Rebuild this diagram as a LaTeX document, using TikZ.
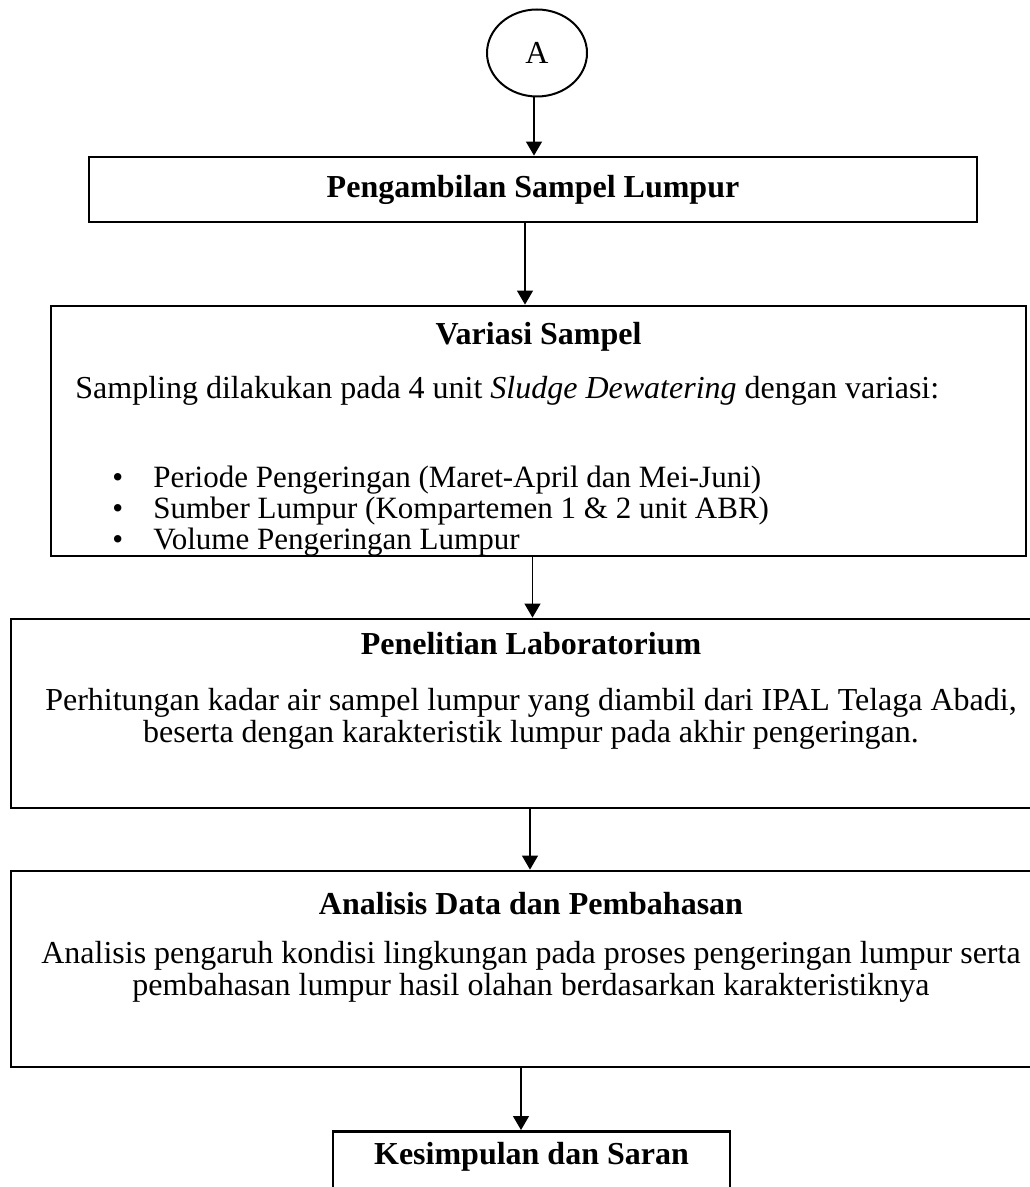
\documentclass[tikz,border=0pt]{standalone}
\usepackage{fontspec}
\setmainfont{Liberation Serif}
\usetikzlibrary{shapes.geometric,arrows.meta,positioning,calc}

\begin{document}
\begin{tikzpicture}[
  x=0.5pt, y=-0.5pt,
  connector/.style={ellipse, draw, line width=1pt, minimum width=50pt,
    minimum height=43.5pt, inner sep=0pt, font=\fontsize{16}{16}\selectfont},
  box/.style={rectangle, draw, line width=1.4pt, inner sep=0pt, fill=white},
  title/.style={font=\fontsize{16}{16}\selectfont\bfseries, inner sep=0pt},
  body/.style={font=\fontsize{16}{16}\selectfont, inner sep=0pt},
  item/.style={font=\fontsize{15.5}{15.5}\selectfont, inner sep=0pt},
  para/.style={font=\fontsize{16}{16}\selectfont, inner sep=0pt, align=center},
  arr/.style={-{Triangle[length=7pt,width=8pt]}, line width=0.6pt}
]
\useasboundingbox (0,0) rectangle (1029,1187);

\node[connector] (a) at (537,53) {A};
\node[box, title, minimum width=444pt, minimum height=32.5pt] (ambil) at (533,189.5) {Pengambilan Sampel Lumpur};

% variasi sampel
\node[box, minimum width=487.5pt, minimum height=125pt] (variasi) at (538.5,431) {};
\node[title, anchor=base] (variasititle) at (538.5,344) {Variasi Sampel};
\node[body, anchor=base west] (sampling) at (75,398) {Sampling dilakukan pada 4 unit \textit{Sludge Dewatering} dengan variasi:};
\node[item, anchor=base west] (periode) at (112,487) {\makebox[20.5pt][l]{\textbullet}Periode Pengeringan (Maret-April dan Mei-Juni)};
\node[item, anchor=base west] (sumber) at (112,518) {\makebox[20.5pt][l]{\textbullet}Sumber Lumpur (Kompartemen 1 \& 2 unit ABR)};
\node[item, anchor=base west] (volume) at (112,549) {\makebox[20.5pt][l]{\textbullet}Volume Pengeringan Lumpur};

% penelitian
\node[box, minimum width=522pt, minimum height=94.5pt] (lab) at (533,713.5) {};
\node[title, anchor=base] (labtitle) at (531,654) {Penelitian Laboratorium};
\node[para, anchor=base] (labtext) at (531,742) {Perhitungan kadar air sampel lumpur yang diambil dari IPAL Telaga Abadi,\\beserta dengan karakteristik lumpur pada akhir pengeringan.};

% analisis
\node[box, minimum width=522pt, minimum height=98pt] (analisis) at (533,969) {};
\node[title, anchor=base] (analisistitle) at (531,914) {Analisis Data dan Pembahasan};
\node[para, anchor=base] (analisistext) at (531,995) {Analisis pengaruh kondisi lingkungan pada proses pengeringan lumpur serta\\pembahasan lumpur hasil olahan berdasarkan karakteristiknya};

\node[box, minimum width=198.5pt, minimum height=40pt, anchor=north] (simpul) at (531.5,1130) {};
\node[title, anchor=base] (simpultitle) at (531.5,1164) {Kesimpulan dan Saran};

\draw[arr] ([xshift=-1.5pt]a.south) -- ([xshift=-1.5pt]a.south |- ambil.north);
\draw[arr] ([xshift=-4pt]ambil.south) -- ([xshift=-4pt]ambil.south |- variasi.north);
\draw[arr] ([xshift=-3pt]variasi.south) -- ([xshift=-3pt]variasi.south |- lab.north);
\draw[arr] ([xshift=-1.5pt]lab.south) -- ([xshift=-1.5pt]lab.south |- analisis.north);
\draw[arr] ([xshift=-6pt]analisis.south) -- ([xshift=-6pt]analisis.south |- simpul.north);

\end{tikzpicture}
\end{document}
